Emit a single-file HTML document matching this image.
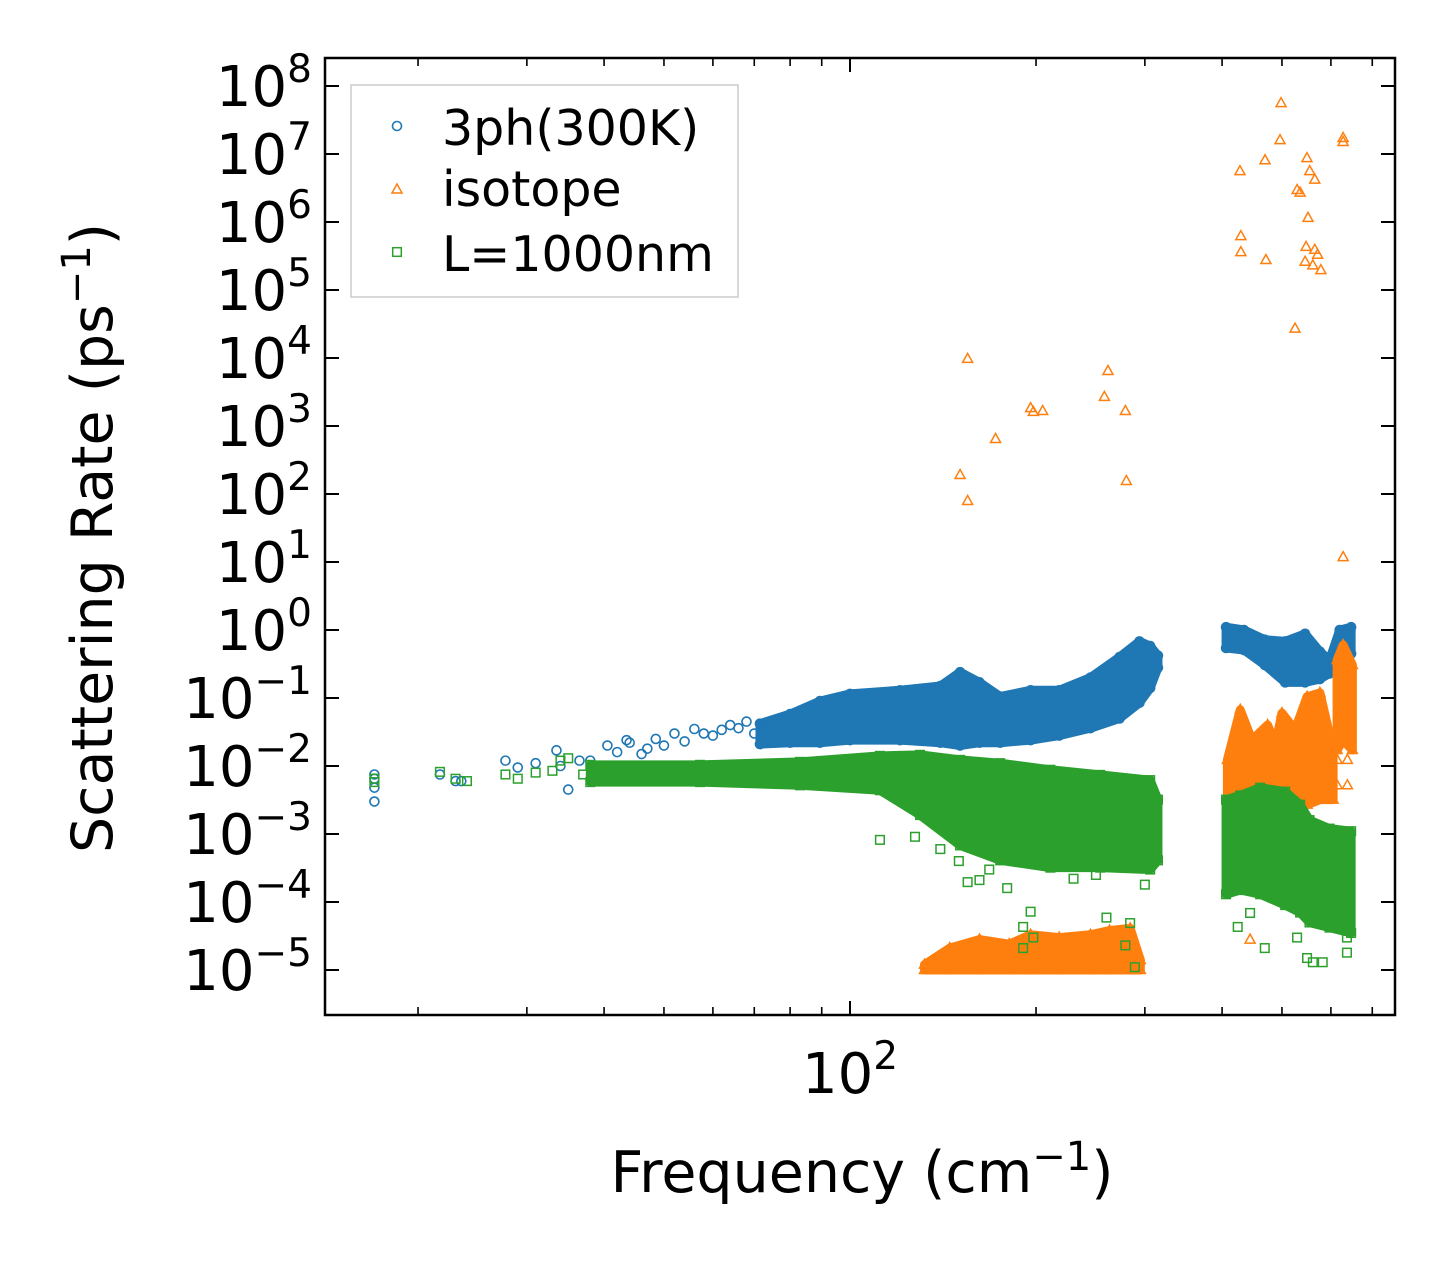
<!DOCTYPE html>
<html><head><meta charset="utf-8"><style>
html,body{margin:0;padding:0;background:#fff;}
svg{display:block;font-family:"DejaVu Sans","Liberation Sans",sans-serif;}
</style></head><body>
<svg id="chart" width="1455" height="1265" viewBox="0 0 1455 1265" xmlns="http://www.w3.org/2000/svg">
<rect width="1455" height="1265" fill="#fff"/>
<g id="plot"></g>
<g id="axes"></g>
</svg>
<script>
// ---- data (frequency cm^-1, rate ps^-1) ----
const blueFreq = [17,17,17,17,21.7,23,23.5,27.7,29,31,33.5,34,35,36.5,38,39.5,40.5,42,43.5,44,46,47,48.5,50,52,54,56,58,60,62,64,66,68,70,72];
const blueRate = [0.0075,0.0065,0.0048,0.003,0.0075,0.006,0.006,0.012,0.0095,0.011,0.017,0.01,0.0045,0.012,0.012,0.009,0.02,0.016,0.024,0.022,0.015,0.018,0.025,0.02,0.03,0.023,0.035,0.03,0.028,0.034,0.04,0.036,0.045,0.03,0.038];
const blueBand1Freq = [71.5,80,89.4,100,120.5,140,150.7,162,175,196,218,245,273,294,306,315];
const blueBand1Low  = [0.021,0.022,0.022,0.024,0.024,0.022,0.02,0.022,0.022,0.024,0.028,0.036,0.05,0.085,0.14,0.28];
const blueBand1High = [0.042,0.058,0.09,0.115,0.13,0.15,0.24,0.17,0.105,0.13,0.13,0.2,0.4,0.68,0.58,0.42];
const blueBand2Freq = [406,434,469,506,545,576,597,620,647];
const blueBand2Low  = [0.544,0.508,0.306,0.17,0.17,0.19,0.23,0.27,0.45];
const blueBand2High = [1.1,1.0,0.72,0.68,0.88,0.48,0.36,1.0,1.1];

const isoFreq = [427.6,469.4,496.4,498.3,548.8,628,628,554.6,565,529,535,429,429,551,471,547,565,571,545,561,578,525,628,150.7,155,155,172,196,198,205,258,261.5,279,280,614,638,614,638,444];
const isoRate = [5.6e6,8.1e6,1.6e7,5.6e7,8.7e6,1.72e7,1.5e7,5.6e6,4.2e6,2.95e6,2.7e6,6.2e5,3.6e5,1.15e6,2.76e5,4.3e5,3.9e5,3.3e5,2.6e5,2.3e5,1.96e5,2.7e4,11.8,190,79,9700,645,1830,1610,1660,2680,6450,1660,155,0.0123,0.0123,0.0052,0.0052,2.8e-5];
const isoBand1Freq = [132,145,162,181,196,218,245,263,284,295];
const isoBand1Low  = [1e-5,1e-5,1e-5,1e-5,1e-5,1e-5,1e-5,1e-5,1e-5,1e-5];
const isoBand1High = [1.2e-5,2.1e-5,2.8e-5,2.4e-5,3.3e-5,3e-5,3.3e-5,3.8e-5,4.1e-5,1.4e-5];
const isoBand2Freq = [408,428,447,474,488,500,525,549,576,605];
const isoBand2Low  = [1.5e-4,2.1e-4,5.8e-4,1.6e-3,1.6e-3,1.9e-3,2.2e-3,2.7e-3,3.2e-3,3.2e-3];
const isoBand2High = [0.0123,0.067,0.024,0.04,0.0204,0.06,0.034,0.104,0.119,0.0172];
const isoBand3Freq = [614,628,650];
const isoBand3Low  = [0.0172,0.024,0.0172];
const isoBand3High = [0.362,0.6,0.306];

const grnFreq = [17,17,21.7,23,24,27.7,29,31,33,34,35,37,39,42,45,48,52,55,60,65,70,75,127.4,155,162,179.6,196,190.6,190.6,198,260,284,289,309,279,424,469,444,529,561,582,637,637,549,111.8,140,150,168,230,250,300];
const grnRate = [0.0065,0.0058,0.0082,0.0065,0.006,0.0075,0.0065,0.008,0.0085,0.012,0.013,0.0075,0.0075,0.009,0.0085,0.0085,0.0075,0.0085,0.008,0.0085,0.0075,0.008,9.1e-4,1.96e-4,2.1e-4,1.6e-4,7.2e-5,4.3e-5,2.1e-5,3e-5,5.9e-5,4.9e-5,1.1e-5,4.5e-4,2.3e-5,4.3e-5,2.1e-5,6.9e-5,3e-5,1.3e-5,1.3e-5,1.8e-5,3e-5,1.5e-5,8.2e-4,6e-4,4e-4,3e-4,2.2e-4,2.5e-4,1.8e-4];
const grnBand1Freq = [38,57.2,83,111.8,129.8,150.7,175,211,254,306,315];
const grnBand1Low  = [0.0058,0.0058,0.0052,0.0044,0.0019,0.00068,0.00041,0.00032,0.00032,0.0003,0.00041];
const grnBand1High = [0.0104,0.0104,0.0115,0.0141,0.0146,0.0123,0.011,0.0088,0.0074,0.0062,0.0032];
const grnBand2Freq = [406,428,461,506,535,554,597,647];
const grnBand2Low  = [0.00013,0.00015,0.00013,0.00009,0.00007,0.00005,0.000042,0.000035];
const grnBand2High = [0.0032,0.0037,0.0048,0.0042,0.0027,0.0016,0.0012,0.0011];

const yTickExps = [8,7,6,5,4,3,2,1,0,-1,-2,-3,-4,-5];
const xMinorTicks = [20,30,40,50,60,70,80,90,200,300,400,500,600,700];
const xMajorTicks = [100];

// ---- axes ----
const L=325,R=1395,T=58,B=1015;
const xs = f => 850 + 618*(Math.log10(f)-2);
const ys = v => 630 - 68*Math.log10(v);
const NS="http://www.w3.org/2000/svg";
const plot=document.getElementById('plot'), axes=document.getElementById('axes');
function mk(tag, parent, attrs){const e=document.createElementNS(NS,tag);for(const k in attrs)e.setAttribute(k,attrs[k]);parent.appendChild(e);return e;}

const C={blue:'#1f77b4',orange:'#ff7f0e',green:'#2ca02c'};
function marker(parent, kind, cx, cy, color){
  let e;
  if(kind==='o') e=mk('circle',parent,{cx:cx,cy:cy,r:4.5,fill:'none',stroke:color,'stroke-width':1.6});
  else if(kind==='^') e=mk('polygon',parent,{points:`${cx},${cy-5.5} ${cx-5},${cy+3.5} ${cx+5},${cy+3.5}`,fill:'none',stroke:color,'stroke-width':1.5});
  else e=mk('rect',parent,{x:cx-4.3,y:cy-4.3,width:8.6,height:8.6,fill:'none',stroke:color,'stroke-width':1.5});
  return e;
}
function band(parent, fr, lo, hi, color, kind, name){
  const g=mk('g',parent,{});
  
  
  let pts=[];
  for(let i=0;i<fr.length;i++) pts.push(xs(fr[i])+','+ys(hi[i]));
  for(let i=fr.length-1;i>=0;i--) pts.push(xs(fr[i])+','+ys(lo[i]));
  const p=mk('polygon',g,{points:pts.join(' '),fill:color,stroke:color,'stroke-width':9,'stroke-linejoin':'round'});
  
  
  for(let i=0;i<fr.length;i++){
    const m1=marker(g,kind,xs(fr[i]),ys(hi[i]),color);
    
    
    const m2=marker(g,kind,xs(fr[i]),ys(lo[i]),color);
    
    
  }
}
function scatter(parent, fr, rt, color, kind, name){
  const g=mk('g',parent,{});
  
  
  for(let i=0;i<fr.length;i++){
    const m=marker(g,kind,xs(fr[i]),ys(rt[i]),color);
    
    
  }
}
const clip=mk('clipPath',document.getElementById('chart'),{id:'clp'});
mk('rect',clip,{x:L,y:T,width:R-L,height:B-T});
plot.setAttribute('clip-path','url(#clp)');

band(plot,blueBand1Freq,blueBand1Low,blueBand1High,C.blue,'o','3ph-band-low-freq');
band(plot,blueBand2Freq,blueBand2Low,blueBand2High,C.blue,'o','3ph-band-high-freq');
scatter(plot,blueFreq,blueRate,C.blue,'o','3ph-series');
band(plot,isoBand1Freq,isoBand1Low,isoBand1High,C.orange,'^','isotope-band-low');
band(plot,isoBand2Freq,isoBand2Low,isoBand2High,C.orange,'^','isotope-band-high');
band(plot,isoBand3Freq,isoBand3Low,isoBand3High,C.orange,'^','isotope-band-spike');
scatter(plot,isoFreq,isoRate,C.orange,'^','isotope-series');
band(plot,grnBand1Freq,grnBand1Low,grnBand1High,C.green,'s','boundary-band-low-freq');
band(plot,grnBand2Freq,grnBand2Low,grnBand2High,C.green,'s','boundary-band-high-freq');
scatter(plot,grnFreq,grnRate,C.green,'s','boundary-series');

// frame
const fr=mk('rect',axes,{x:L,y:T,width:R-L,height:B-T,fill:'none',stroke:'#000','stroke-width':2.5});



// y ticks
yTickExps.forEach(e=>{
  const y=ys(Math.pow(10,e));
  mk('line',axes,{x1:L,y1:y,x2:L+14,y2:y,stroke:'#000','stroke-width':2});
  mk('line',axes,{x1:R,y1:y,x2:R-14,y2:y,stroke:'#000','stroke-width':2});
  const t=mk('text',axes,{x:312,y:y+20,'font-size':56,'text-anchor':'end',fill:'#000'});
  
  
  const a=mk('tspan',t,{});
  a.textContent='10';
  const s=mk('tspan',t,{'font-size':39,dy:-24});
  s.textContent=(e<0?'\u2212':'')+Math.abs(e);
});
// x ticks
xMinorTicks.forEach(f=>{
  const x=xs(f);
  mk('line',axes,{x1:x,y1:B,x2:x,y2:B-8,stroke:'#000','stroke-width':1.6});
  mk('line',axes,{x1:x,y1:T,x2:x,y2:T+8,stroke:'#000','stroke-width':1.6});
});
xMajorTicks.forEach(f=>{
  const x=xs(f);
  mk('line',axes,{x1:x,y1:B,x2:x,y2:B-14,stroke:'#000','stroke-width':2});
  mk('line',axes,{x1:x,y1:T,x2:x,y2:T+14,stroke:'#000','stroke-width':2});
  const t=mk('text',axes,{x:x,y:1093,'font-size':56,'text-anchor':'middle',fill:'#000'});
  
  
  const a=mk('tspan',t,{});
  a.textContent='10';
  const s=mk('tspan',t,{'font-size':39,dy:-24});
  s.textContent='2';
});
</script>
<svg style="position:absolute;left:0;top:0" width="1455" height="1265" xmlns="http://www.w3.org/2000/svg" font-family="DejaVu Sans, Liberation Sans, sans-serif">
  <text x="862" y="1192" font-size="57" text-anchor="middle">Frequency (cm<tspan font-size="40" dy="-22">−1</tspan><tspan dy="22">)</tspan></text>
  <text transform="translate(112,538) rotate(-90)" font-size="57" text-anchor="middle">Scattering Rate (ps<tspan font-size="40" dy="-22">−1</tspan><tspan dy="22">)</tspan></text>
  <g>
    <rect x="351" y="85" width="387" height="212" fill="#fff" fill-opacity="0.8" stroke="#ccc" stroke-width="1.5"/>
    <g>
      <circle cx="397" cy="126" r="4.5" fill="none" stroke="#1f77b4" stroke-width="1.6"/>
      <text x="442" y="145" font-size="49">3ph(300K)</text>
    </g>
    <g>
      <polygon points="397,184 392,193 402,193" fill="none" stroke="#ff7f0e" stroke-width="1.5"/>
      <text x="442" y="206" font-size="49">isotope</text>
    </g>
    <g>
      <rect x="392.7" y="247.7" width="8.6" height="8.6" fill="none" stroke="#2ca02c" stroke-width="1.5"/>
      <text x="442" y="271" font-size="49">L=1000nm</text>
    </g>
  </g>
</svg>
</body></html>
